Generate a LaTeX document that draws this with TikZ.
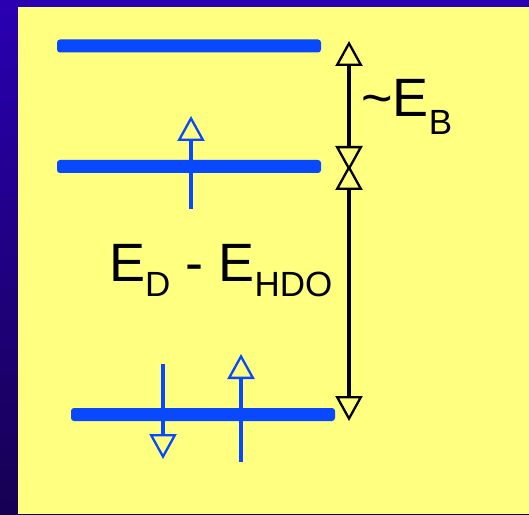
\documentclass[tikz,border=0pt]{standalone}
\usepackage{fontspec}
\setmainfont{Liberation Sans}
\usetikzlibrary{arrows.meta, positioning}

\definecolor{slidetop}{RGB}{42,0,178}
\definecolor{slidebot}{RGB}{22,0,82}
\definecolor{padyellow}{RGB}{255,255,128}
\definecolor{levelblue}{RGB}{8,72,255}

\newcommand{\lowsub}[2]{\raisebox{#1}{\fontsize{35}{38}\selectfont #2}}

\begin{document}
\begin{tikzpicture}[
    x=1pt, y=1pt,
    level/.style ={fill=levelblue, rounded corners=3pt, inner sep=0pt,
                   minimum width=264pt, minimum height=13pt},
    spin/.style  ={draw=levelblue, line width=3.2pt,
                   -{Triangle[open, length=25pt, width=27pt, line width=2.3pt]}},
    gap/.style   ={draw=black, line width=3.2pt,
                   {Triangle[open, length=25pt, width=27pt, line width=2.3pt]}-{Triangle[open, length=25pt, width=27pt, line width=2.3pt]}},
    lbl/.style   ={inner sep=0pt, font=\fontsize{54}{60}\selectfont}
]

%% ── Slide background ─────────────────────────────────────────────
\shade[top color=slidetop, bottom color=slidebot] (0,0) rectangle (529,514);
\fill[padyellow] (18,0) rectangle (529,507);
\useasboundingbox (0,0) rectangle (529,514);

%% ── Energy levels ────────────────────────────────────────────────
\node[level] (lvltop) at (189, 468) {};
\node[level] (lvlmid) at (189, 347.5) {};
\node[level] (lvlbot) at (203, 99.5) {};

%% ── Spin arrows ──────────────────────────────────────────────────
\coordinate (midtail) at (191, 305);
\coordinate (midtip)  at (191, 398);
\coordinate (dntail)  at (163, 150);
\coordinate (dntip)   at (163, 55);
\coordinate (uptail)  at (241, 52);
\coordinate (uptip)   at (241, 160);

\draw[spin] (midtail) -- (midtip);
\draw[spin] (dntail)  -- (dntip);
\draw[spin] (uptail)  -- (uptip);

%% ── Energy gaps ──────────────────────────────────────────────────
\coordinate (gaptop) at (349, 473);
\coordinate (gapmida) at (349, 343);
\coordinate (gapmidb) at (349, 349);
\coordinate (gapbot) at (349, 93);

\draw[gap] (gapmida) -- (gaptop);
\draw[gap] (gapbot) -- (gapmidb);

%% ── Labels ───────────────────────────────────────────────────────
\node[lbl, anchor=base west] (ebind) at (361, 397)
    {\textasciitilde E\lowsub{-18pt}{B}};
\node[lbl, anchor=base west] (edhdo) at (109, 232)
    {E\lowsub{-15pt}{D} - E\lowsub{-15pt}{HDO}};

\end{tikzpicture}
\end{document}
